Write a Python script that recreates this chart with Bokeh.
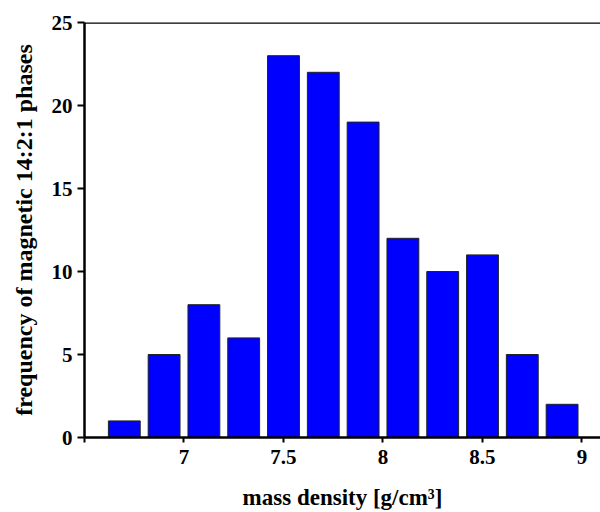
from bokeh.plotting import figure
from bokeh.models import FixedTicker, Span, Range1d
from bokeh.embed import file_html
from bokeh.resources import INLINE

density = [6.7, 6.9, 7.1, 7.3, 7.5, 7.7, 7.9, 8.1, 8.3, 8.5, 8.7, 8.9]
frequency = [1, 5, 8, 6, 23, 22, 19, 12, 10, 11, 5, 2]
x_ticks = [6.5, 7, 7.5, 8, 8.5, 9]
y_ticks = [0, 5, 10, 15, 20, 25]

p = figure(width=600, height=512, output_backend="svg", toolbar_location=None,
           x_range=Range1d(6.5, 9.093), y_range=Range1d(0, 25),
           min_border_left=84, min_border_right=0, min_border_top=22, min_border_bottom=73)

p.vbar(x=density, top=frequency, width=0.16, bottom=0,
       fill_color="#0000FF", line_color="#222222", line_width=1)

p.outline_line_color = None
p.grid.visible = False
p.background_fill_color = "white"
p.border_fill_color = "white"

p.add_layout(Span(location=25, dimension="width", line_color="black", line_width=2.5))

font = "Liberation Serif"
for ax in (p.xaxis[0], p.yaxis[0]):
    ax.axis_line_width = 2.5
    ax.axis_line_color = "black"
    ax.major_tick_line_width = 2
    ax.major_tick_in = 0
    ax.minor_tick_line_color = None
    ax.major_label_text_font = font
    ax.major_label_text_font_style = "bold"
    ax.major_label_text_font_size = "21px"
    ax.major_label_text_color = "black"
    ax.axis_label_text_font = font
    ax.axis_label_text_font_style = "bold"
    ax.axis_label_text_color = "black"

p.xaxis[0].ticker = FixedTicker(ticks=x_ticks)
p.xaxis[0].major_label_overrides = {6.5: ""}
p.xaxis[0].major_tick_out = 5
p.xaxis[0].major_label_standoff = 7
p.xaxis[0].axis_label = "mass density [g/cm³]"
p.xaxis[0].axis_label_text_font_size = "23px"
p.xaxis[0].axis_label_standoff = 18

p.yaxis[0].ticker = FixedTicker(ticks=y_ticks)
p.yaxis[0].major_tick_out = 7
p.yaxis[0].major_label_standoff = 5
p.yaxis[0].axis_label = "frequency of magnetic 14:2:1 phases"
p.yaxis[0].axis_label_text_font_size = "24px"
p.yaxis[0].axis_label_standoff = 12

open("out.html", "w").write(file_html(p, INLINE))
